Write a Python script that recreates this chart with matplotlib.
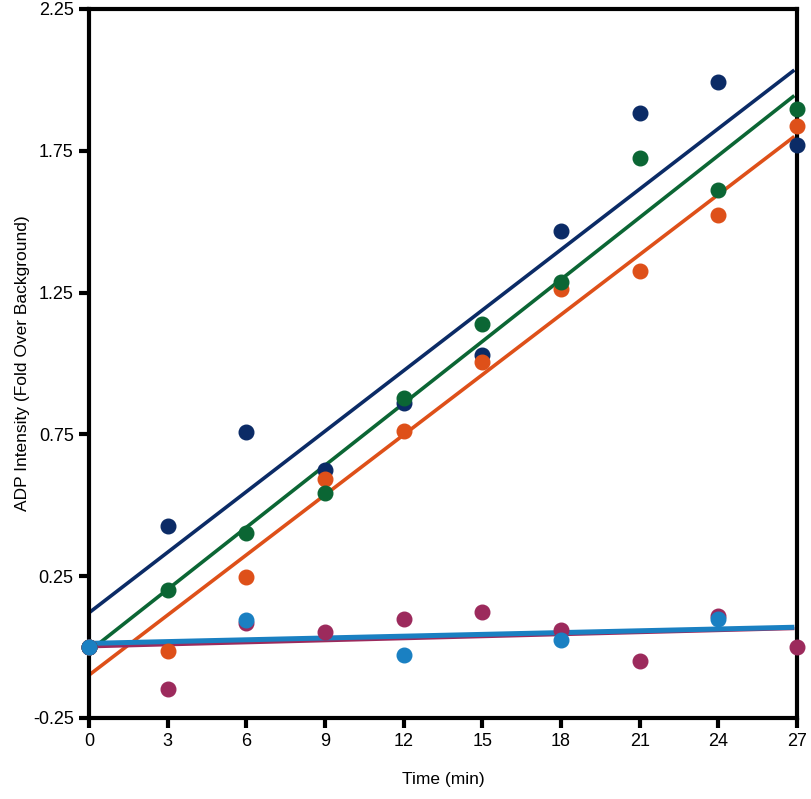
import numpy as np
import matplotlib.pyplot as plt

plt.rcParams['font.family'] = ['Liberation Sans', 'DejaVu Sans']

# time points (min)
time = [0, 3, 6, 9, 12, 15, 18, 21, 24, 27]
time_even = [0, 6, 12, 18, 24]

navy = [0.0, 0.427, 0.758, 0.624, 0.861, 1.03, 1.467, 1.883, 1.993, 1.77]
green = [0.0, 0.201, 0.402, 0.543, 0.878, 1.139, 1.287, 1.725, 1.612, 1.897]
orange = [0.0, -0.014, 0.247, 0.593, 0.762, 1.005, 1.263, 1.326, 1.524, 1.837]
magenta = [0.0, -0.148, 0.085, 0.053, 0.099, 0.124, 0.060, -0.049, 0.110, 0.0]
cyan = [0.0, 0.096, -0.028, 0.025, 0.099]

yticks = [-0.25, 0.25, 0.75, 1.25, 1.75, 2.25]
xticks = time

series = [
    (time, navy, '#0b2b66', 2.6),
    (time, orange, '#de5019', 2.6),
    (time, green, '#0b6634', 2.6),
    (time, magenta, '#9c2a5c', 2.4),
    (time_even, cyan, '#1a80c2', 3.6),
]

fig = plt.figure(figsize=(8.12, 7.99), dpi=100)
ax = fig.add_axes([0.1096, 0.1014, 0.8719, 0.8874])

for x, y, c, lw in series:
    ax.plot(x, y, 'o', color=c, markersize=10.5, clip_on=False, zorder=3)
    k, b = np.polyfit(x, y, 1)
    xx = np.array([0, 26.9])
    ax.plot(xx, k * xx + b, color=c, lw=lw, zorder=2, solid_capstyle='butt')

ax.set_xlim(0, 27)
ax.set_ylim(-0.25, 2.25)
ax.set_xticks(xticks)
ax.set_yticks(yticks)
ax.set_yticklabels([f'{v:.2f}' for v in yticks])
for s in ax.spines.values():
    s.set_linewidth(3)
ax.tick_params(width=3, length=7, labelsize=13, pad=4)
ax.set_xlabel('Time (min)', fontsize=12.5, labelpad=16)
ax.set_ylabel('ADP Intensity (Fold Over Background)', fontsize=12.5, labelpad=2)

fig.savefig('out.png', dpi=100)
